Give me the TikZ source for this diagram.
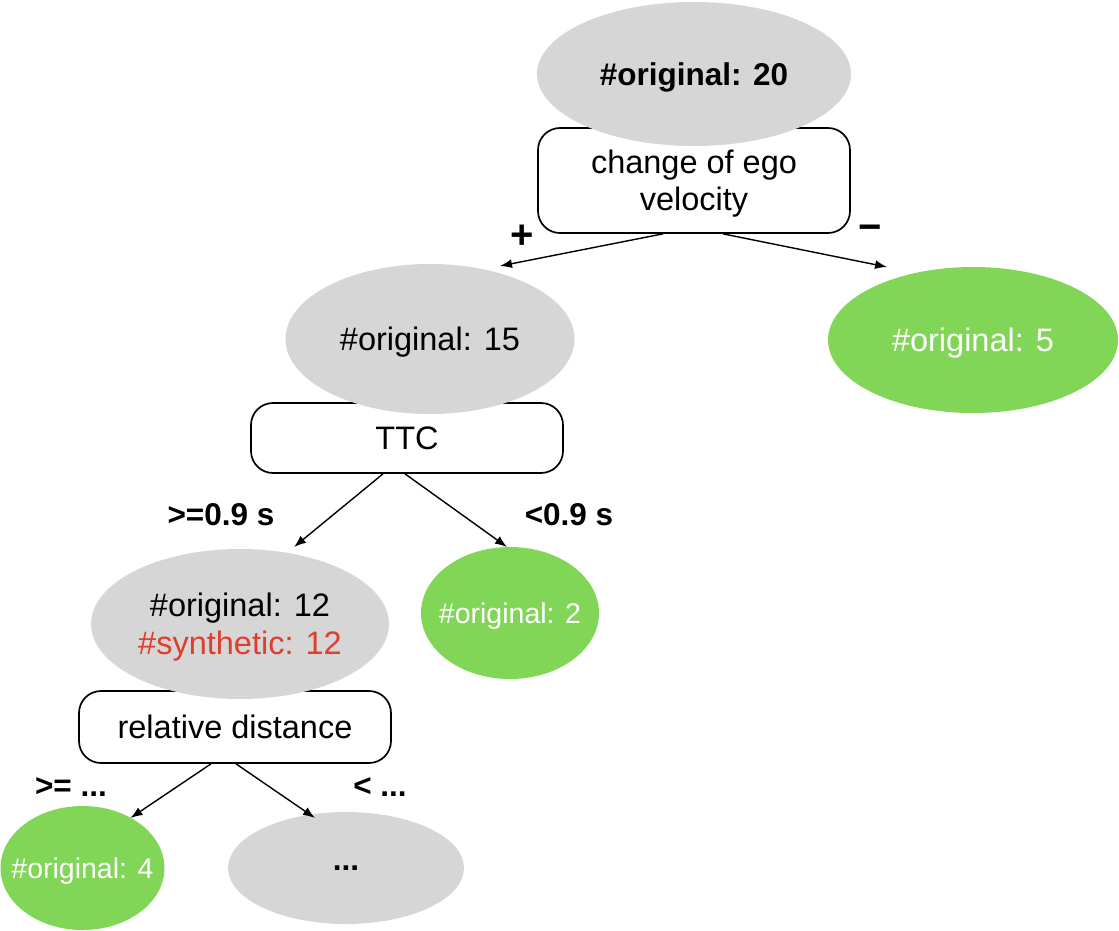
\documentclass[tikz,border=0pt]{standalone}
\usepackage{fontspec}
\setmainfont{Liberation Sans}
\usetikzlibrary{shapes.geometric,arrows.meta,calc}
\definecolor{nodegray}{RGB}{214,214,214}
\definecolor{leafgreen}{RGB}{130,214,87}
\definecolor{synred}{RGB}{222,62,44}
\tikzset{
 ell/.style={ellipse, fill=nodegray, draw=none, inner sep=0pt, text depth=0pt, font=\fontsize{32.5}{38}\selectfont, align=center},
 leaf/.style={ellipse, fill=leafgreen, draw=none, inner sep=0pt, text depth=0pt, text=white, font=\fontsize{32.5}{38}\selectfont},
 leafsmall/.style={leaf, inner xsep=-30pt, font=\fontsize{28.5}{34}\selectfont},
 splitbox/.style={draw=black, line width=1.7pt, fill=white, rounded corners=22pt, minimum width=312pt, inner sep=0pt, text depth=0pt, align=center, font=\fontsize{32.5}{37}\selectfont},
 edge/.style={-{Latex[length=12pt,width=9pt]}, line width=1.4pt},
 lbl/.style={font=\bfseries\fontsize{31.5}{36}\selectfont, inner sep=0pt},
 signlbl/.style={font=\bfseries\fontsize{40}{44}\selectfont, inner sep=0pt},
}
\begin{document}
\begin{tikzpicture}[x=1pt,y=-1pt]
\useasboundingbox (0,0) rectangle (1119,931);
% split boxes
\node[splitbox, minimum height=105pt] (b1) at (694,180.5) {change of ego\\velocity};
\node[splitbox, minimum height=70pt] (b2) at (407,438) {TTC};
\node[splitbox, minimum height=72pt] (b3) at (235,727) {relative distance};
% ellipses
\node[ell, minimum width=314pt, minimum height=144pt, font=\bfseries\fontsize{31.5}{36}\selectfont] (n20) at (694,74) {\#original: 20};
\node[ell, minimum width=289pt, minimum height=150pt] (n15) at (430,339) {\#original: 15};
\node[leaf, minimum width=290pt, minimum height=146pt] (n5) at (973,340) {\#original: 5};
\node[ell, minimum width=298pt, minimum height=150pt] (n12) at (240,624) {\#original: 12\\\textcolor{synred}{\#synthetic: 12}};
\node[leafsmall, minimum width=178pt, minimum height=132pt] (n2) at (510,613) {\#original: 2};
\node[leafsmall, minimum width=164pt, minimum height=124pt] (n4) at (82.5,868) {\#original: 4};
\node[ell, minimum width=236pt, minimum height=112pt, font=\bfseries\fontsize{31.5}{36}\selectfont] (nd) at (346,868) {...};
% branch labels
\node[signlbl] (lp) at (522,237) {+};
\node[signlbl] (lm) at (870,233) {−};
\node[lbl] (l1) at (221,515) {>=0.9 s};
\node[lbl] (l2) at (569,515) {<0.9 s};
\node[lbl] (l3) at (71,787) {>= ...};
\node[lbl] (l4) at (380,787) {< ...};
% connectors
\draw[edge] ($(b1.south)+(-31,0)$) -- ($(n15)+(70,-73)$);
\draw[edge] ($(b1.south)+(29,0)$) -- ($(n5)+(-86,-73)$);
\draw[edge] ($(b2.south)+(-24,0)$) -- ($(n12)+(54,-77)$);
\draw[edge] ($(b2.south)+(-2,0)$) -- ($(n2)+(-3,-66)$);
\draw[edge] ($(b3.south)+(-24,0)$) -- ($(n4)+(48,-50)$);
\draw[edge] ($(b3.south)+(1,0)$) -- ($(nd)+(-31,-50)$);
\end{tikzpicture}
\end{document}
